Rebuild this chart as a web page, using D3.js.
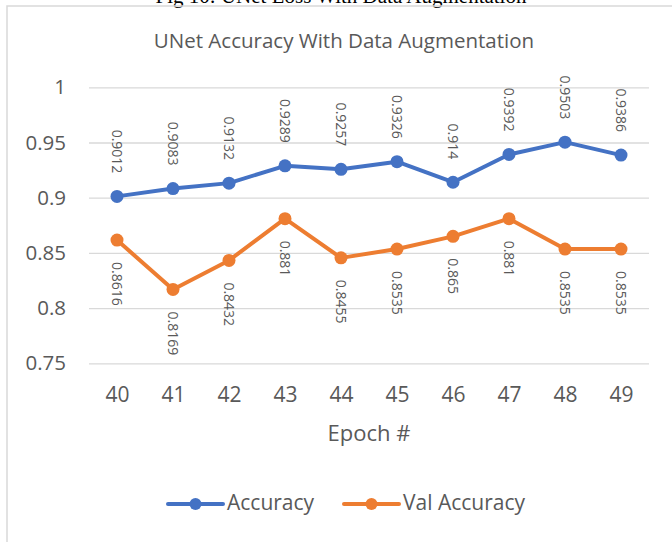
<!DOCTYPE html>
<html>
<head>
<meta charset="utf-8">
<script src="https://cdn.jsdelivr.net/npm/d3@7"></script>
<style>
  html, body { margin: 0; padding: 0; background: #fff; }
  svg { display: block; }
  text { font-family: "Open Sans", sans-serif; fill: #595959; }
</style>
</head>
<body>
<div id="chart"></div>
<script>
// chart values
const epochs = [40, 41, 42, 43, 44, 45, 46, 47, 48, 49];
const accuracy = [0.9012, 0.9083, 0.9132, 0.9289, 0.9257, 0.9326, 0.914, 0.9392, 0.9503, 0.9386];
const valAccuracy = [0.8616, 0.8169, 0.8432, 0.881, 0.8455, 0.8535, 0.865, 0.881, 0.8535, 0.8535];
const yTicks = [0.75, 0.8, 0.85, 0.9, 0.95, 1];
const seriesNames = ['Accuracy', 'Val Accuracy'];
const colors = ['#4472C4', '#ED7D31'];

const width = 672, height = 542;

const svg = d3.select('#chart')
  .append('svg')
  .attr('width', width)
  .attr('height', height);

// caption of the page above the chart (cut off by the top edge, as in the source)
svg.append('text')
  .attr('x', 341)
  .attr('y', 3)
  .attr('text-anchor', 'middle')
  .style('font-family', '"Liberation Serif", "Times New Roman", serif')
  .style('font-size', '21px')
  .style('fill', '#000')
  .text('Fig 10: UNet Loss With Data Augmentation');

// chart frame
svg.append('rect')
  .attr('x', 7)
  .attr('y', 6)
  .attr('width', 700)
  .attr('height', 600)
  .attr('fill', 'none')
  .attr('stroke', '#d9d9d9')
  .attr('stroke-width', 1.5);

// title
svg.append('text')
  .attr('x', 344)
  .attr('y', 48)
  .attr('text-anchor', 'middle')
  .style('font-size', '20.5px')
  .text('UNet Accuracy With Data Augmentation');

// scales
const x = d3.scalePoint()
  .domain(epochs)
  .range([89, 649])
  .padding(0.5);

const y = d3.scaleLinear()
  .domain([0.75, 1])
  .range([363.3, 87.3]);

// gridlines + y labels
const yAxis = svg.append('g')
  .attr('transform', 'translate(89,0)')
  .call(d3.axisLeft(y).tickValues(yTicks).tickSize(-560).tickPadding(23).tickFormat(d3.format('')));
yAxis.select('.domain').remove();
yAxis.selectAll('.tick line').attr('stroke', '#d9d9d9').attr('stroke-width', 1.3);
yAxis.selectAll('.tick text')
  .style('font-size', '20.5px')
  .style('font-family', '"Open Sans", sans-serif')
  .attr('fill', '#595959');

// x labels
const xAxis = svg.append('g')
  .attr('transform', 'translate(0,363.3)')
  .call(d3.axisBottom(x).tickSize(0));
xAxis.select('.domain').remove();
xAxis.selectAll('.tick text')
  .attr('y', 39)
  .attr('dy', null)
  .style('font-size', '21px')
  .style('font-family', '"Open Sans", sans-serif')
  .attr('fill', '#595959');

// x axis title
svg.append('text')
  .attr('x', 369)
  .attr('y', 435)
  .attr('text-anchor', 'middle')
  .attr('dominant-baseline', 'middle')
  .style('font-size', '22px')
  .text('Epoch #');

// series
const series = [accuracy, valAccuracy];
const line = d3.line()
  .x((d, i) => x(epochs[i]))
  .y(d => y(d));

series.forEach((vals, s) => {
  const g = svg.append('g');
  g.append('path')
    .attr('d', line(vals))
    .attr('fill', 'none')
    .attr('stroke', colors[s])
    .attr('stroke-width', 4)
    .attr('stroke-linejoin', 'round');
  g.selectAll('circle')
    .data(vals)
    .join('circle')
    .attr('cx', (d, i) => x(epochs[i]))
    .attr('cy', d => y(d))
    .attr('r', 6.5)
    .attr('fill', colors[s]);

  // rotated data labels: above for accuracy, below for val accuracy
  g.selectAll('text')
    .data(vals)
    .join('text')
    .attr('transform', (d, i) => {
      const px = x(epochs[i]);
      const py = s === 0 ? y(d) - 23 : y(d) + 22;
      return `translate(${px},${py}) rotate(90)`;
    })
    .attr('text-anchor', s === 0 ? 'end' : 'start')
    .attr('dominant-baseline', 'central')
    .style('font-size', '14px')
    .text(d => d);
});

// legend
const legendItems = [
  { name: seriesNames[0], x0: 168, color: colors[0] },
  { name: seriesNames[1], x0: 344, color: colors[1] }
];
const legend = svg.append('g');
legendItems.forEach(item => {
  legend.append('line')
    .attr('x1', item.x0)
    .attr('x2', item.x0 + 55)
    .attr('y1', 504)
    .attr('y2', 504)
    .attr('stroke', item.color)
    .attr('stroke-width', 4)
    .attr('stroke-linecap', 'round');
  legend.append('circle')
    .attr('cx', item.x0 + 27.5)
    .attr('cy', 504)
    .attr('r', 6)
    .attr('fill', item.color);
  legend.append('text')
    .attr('x', item.x0 + 59)
    .attr('y', 504)
    .attr('dominant-baseline', 'middle')
    .style('font-size', '21px')
    .text(item.name);
});
</script>
</body>
</html>
